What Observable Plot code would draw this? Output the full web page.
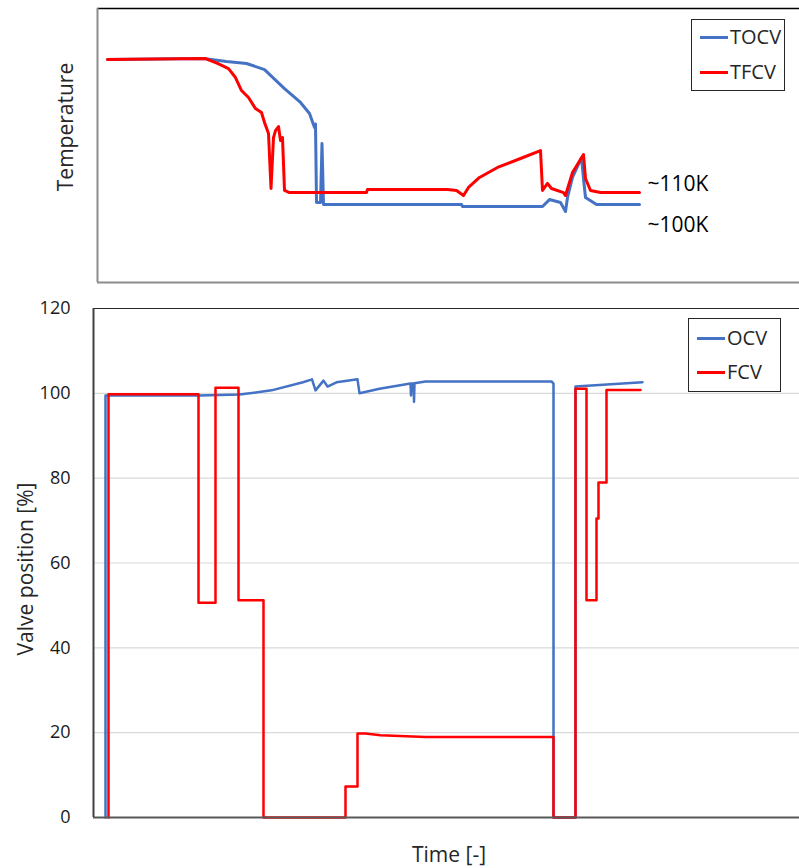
<!DOCTYPE html>
<html>
<head>
<meta charset="utf-8">
<script src="https://cdn.jsdelivr.net/npm/d3@7"></script>
<script src="https://cdn.jsdelivr.net/npm/@observablehq/plot@0.6"></script>
<style>
  html, body { margin: 0; padding: 0; background: #fff; }
  #wrap { position: relative; width: 799px; height: 868px; font-family: "Open Sans", sans-serif; color: #262626; overflow: hidden; }
  .abs { position: absolute; }
  .legend { position: absolute; border: 1px solid #262626; background: #fff; box-sizing: border-box; }
  .item { position: absolute; left: 8px; display: flex; align-items: center; font-size: 20px; line-height: 20px; }
  .sw { width: 28px; height: 3px; margin-right: 2px; }
  .ytitle { position: absolute; font-size: 21px; line-height: 22px; white-space: nowrap; transform: translate(-50%, -50%) rotate(-90deg); }
</style>
</head>
<body>
<div id="wrap"></div>
<script>
// ---------- Top panel: temperatures (time index, temperature in K, approximate) ----------
const tocvTime = [12, 108, 131, 151, 169, 189, 205, 214, 219, 220, 221, 225, 226.5, 228, 366, 367, 447, 454, 465, 470, 472, 477, 486, 488, 490, 501, 544];
const tocvTemp = [211.5, 212.3, 210, 208.5, 203.8, 189.2, 178.5, 170, 159.2, 162, 101.5, 101.5, 146.9, 100, 100, 98.5, 98.5, 103.8, 101.5, 94.6, 105.4, 120.8, 136, 120, 105.4, 100, 100];

const tfcvTime = [12, 110, 122, 133, 140, 146, 153, 160, 166, 169, 173, 175.5, 178, 180, 183, 185, 187, 189, 194, 271, 272, 352, 361, 368, 373, 384, 402, 425, 445, 447, 452, 456, 468, 470, 477, 488, 490, 495, 505, 544];
const tfcvTemp = [211.5, 212.3, 208.5, 204.6, 197.7, 187.7, 182.3, 173.8, 170.8, 163.1, 154.6, 112.3, 151.5, 156.9, 160, 149.2, 151.5, 110.8, 109.2, 109.2, 111.5, 111.5, 110.8, 106.9, 113.1, 120.8, 128.5, 135.4, 141.5, 110.8, 116.2, 112.3, 109.2, 106.9, 124.6, 138.5, 120, 110.8, 109.2, 109.2];

const annoText = ["~110K", "~100K"];
const annoTime = [552, 552];
const annoTemp = [115.4, 84.2];

// ---------- Bottom panel: valve positions [%] ----------
const ocvTime = [10, 10, 104, 144, 176, 207.5, 216.5, 220, 228, 232, 241, 262, 264, 284, 315, 315.5, 316, 318, 318.5, 319, 330, 456, 458, 458, 480, 480, 547];
const ocvPos  = [0, 99.5, 99.5, 99.7, 100.7, 102.6, 103.3, 100.7, 103, 101.6, 102.6, 103.3, 100, 101.1, 102.3, 99.5, 102.3, 102.3, 98, 102.4, 102.8, 102.8, 102.3, 0, 0, 101.6, 102.6];

const fcvTime = [13, 13, 103, 103, 120, 120, 143, 143, 168, 168, 250, 250, 262, 262, 270, 285, 330, 458, 458, 480, 480, 491, 491, 501, 501, 503, 503, 511, 511, 545];
const fcvPos  = [0, 99.8, 99.8, 50.6, 50.6, 101.3, 101.3, 51.2, 51.2, 0, 0, 7.3, 7.3, 19.8, 19.8, 19.4, 19, 19, 0, 0, 101.1, 101.1, 51.2, 51.2, 70.5, 70.5, 79, 79, 100.8, 100.8];

const yTicks = [0, 20, 40, 60, 80, 100, 120];
const gridTicks = [20, 40, 60, 80, 100];

const BLUE = "#4472C4", RED = "#FF0000";

const toRows = (xs, ys) => xs.map((x, i) => ({t: x, v: ys[i]}));
const tocv = toRows(tocvTime, tocvTemp);
const tfcv = toRows(tfcvTime, tfcvTemp);
const ocv = toRows(ocvTime, ocvPos);
const fcv = toRows(fcvTime, fcvPos);
const annos = annoText.map((s, i) => ({s, t: annoTime[i], v: annoTemp[i]}));

const wrap = document.getElementById("wrap");

// Top plot
const topPlot = Plot.plot({
  width: 799, height: 290,
  marginLeft: 97, marginRight: 0, marginTop: 8, marginBottom: 8,
  x: {domain: [2, 704], axis: null},
  y: {domain: [40, 250.8], axis: null},
  style: {fontFamily: "Open Sans", fontSize: "21px", color: "#262626", background: "transparent"},
  marks: [
    Plot.ruleY([250.8], {stroke: "#000", strokeWidth: 1.5}),
    Plot.ruleY([40], {stroke: "#8c8c8c", strokeWidth: 2}),
    Plot.ruleX([2], {stroke: "#8c8c8c", strokeWidth: 2}),
    Plot.line(tocv, {x: "t", y: "v", stroke: BLUE, strokeWidth: 3}),
    Plot.line(tfcv, {x: "t", y: "v", stroke: RED, strokeWidth: 3}),
    Plot.text(annos, {x: "t", y: "v", text: "s", textAnchor: "start", fontSize: 21, fill: "#000"})
  ]
});
topPlot.style.position = "absolute";
topPlot.style.left = "0px";
topPlot.style.top = "0px";
wrap.appendChild(topPlot);

// Bottom plot
const botPlot = Plot.plot({
  width: 799, height: 578,
  marginLeft: 93, marginRight: 0, marginTop: 18, marginBottom: 51,
  x: {domain: [-2, 704], axis: null},
  y: {domain: [0, 120]},
  style: {fontFamily: "Open Sans", fontSize: "18px", color: "#1a1a1a", background: "transparent"},
  marks: [
    Plot.ruleY(gridTicks, {stroke: "#d9d9d9", strokeWidth: 1.2}),
    Plot.ruleY([120], {stroke: "#262626", strokeWidth: 1.2}),
    Plot.axisY({ticks: yTicks, tickSize: 0, tickPadding: 23, label: null, fontSize: 18}),
    Plot.line(ocv, {x: "t", y: "v", stroke: BLUE, strokeWidth: 2.5}),
    Plot.line(fcv, {x: "t", y: "v", stroke: RED, strokeWidth: 2.5}),
    Plot.ruleY([0], {stroke: "#595959", strokeWidth: 2}),
    Plot.ruleX([-2], {stroke: "#404040", strokeWidth: 2})
  ]
});
botPlot.style.position = "absolute";
botPlot.style.left = "0px";
botPlot.style.top = "290px";
wrap.appendChild(botPlot);

// Titles
function addDiv(cls, text, css) {
  const d = document.createElement("div");
  d.className = cls;
  d.textContent = text;
  Object.assign(d.style, css);
  wrap.appendChild(d);
  return d;
}
addDiv("ytitle", "Temperature", {left: "65px", top: "127px"});
addDiv("ytitle", "Valve position [%]", {left: "25px", top: "569px"});
addDiv("abs", "Time [-]", {left: "449px", top: "854px", fontSize: "21px", lineHeight: "22px", transform: "translate(-50%, -50%)", whiteSpace: "nowrap"});

// Legends
function legend(box, items) {
  const lg = document.createElement("div");
  lg.className = "legend";
  Object.assign(lg.style, box);
  items.forEach(([name, color, top]) => {
    const it = document.createElement("div");
    it.className = "item";
    it.style.top = top + "px";
    const sw = document.createElement("div");
    sw.className = "sw";
    sw.style.background = color;
    const tx = document.createElement("span");
    tx.textContent = name;
    it.appendChild(sw);
    it.appendChild(tx);
    lg.appendChild(it);
  });
  wrap.appendChild(lg);
}
legend({left: "691px", top: "19px", width: "94px", height: "72px"}, [["TOCV", BLUE, 7], ["TFCV", RED, 42]]);
legend({left: "688px", top: "318px", width: "93px", height: "74px"}, [["OCV", BLUE, 9], ["FCV", RED, 43]]);
</script>
</body>
</html>
